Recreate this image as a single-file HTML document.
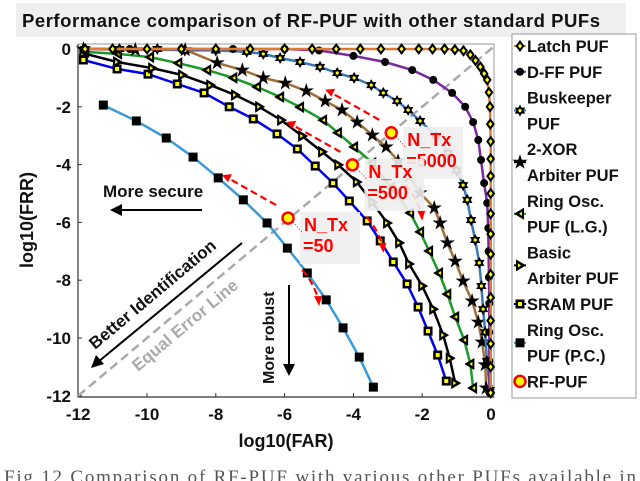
<!DOCTYPE html>
<html><head><meta charset="utf-8"><style>
body{margin:0;background:#fff;width:640px;height:481px;overflow:hidden;font-family:"Liberation Sans",Arial,sans-serif}
svg{display:block}
</style></head><body>
<svg id="chart" width="640" height="481" viewBox="0 0 640 481" font-family="Liberation Sans, Arial, sans-serif">
<rect x="16" y="3" width="610" height="34" fill="#efefef"/>
<text x="22" y="27" font-size="18.5" font-weight="bold" fill="#111" textLength="578">Performance comparison of RF-PUF with other standard PUFs</text>
<g id="plot"></g>
</svg>
<script>
const xTicks=[-12,-10,-8,-6,-4,-2,0];
const yTicks=[0,-2,-4,-6,-8,-10,-12];
const latchFar=[-11.8,-11,-10,-9,-8,-7,-6,-5.2,-4.5,-3.8,-3.2,-2.6,-2.1,-1.7,-1.35,-1.05,-0.8,-0.6,-0.45,-0.31,-0.2,-0.11,-0.06,-0.03,-0.02,-0.01,-0.01,-0.01,-0.01,-0.01,-0.01,-0.01,-0.01,-0.01,-0.01,-0.01,-0.01,-0.01];
const latchFrr=[0,0,0,0,0,0,0,0,0,0,0,0,0,0,0,-0.02,-0.06,-0.2,-0.4,-0.62,-0.85,-1.07,-1.5,-2,-2.6,-3.2,-3.8,-4.4,-5,-5.7,-6.4,-7.1,-7.8,-8.6,-9.4,-10.2,-11,-11.9];
const dffFar=[-11.8,-10.5,-9,-7.5,-6,-5,-4,-3.08,-2.29,-1.68,-1.13,-0.75,-0.52,-0.37,-0.29,-0.2,-0.11,-0.08,-0.07,-0.06,-0.05,-0.05,-0.05,-0.04];
const dffFrr=[0,0,0,0,0,-0.05,-0.24,-0.45,-0.73,-1.07,-1.52,-2,-2.53,-3.15,-3.84,-4.64,-5.33,-6.2,-7,-7.9,-8.8,-9.8,-10.8,-11.9];
const buskFar=[-11.8,-10.8,-9.7,-8.9,-8.0,-7.1,-6.62,-6.13,-5.55,-4.97,-4.47,-3.98,-3.48,-3.13,-2.73,-2.41,-2.06,-1.6,-1.25,-1.0,-0.81,-0.69,-0.58,-0.46,-0.34,-0.28,-0.23,-0.17,-0.12,-0.03];
const buskFrr=[0,0,0,-0.05,-0.05,-0.1,-0.17,-0.31,-0.45,-0.62,-0.83,-1.0,-1.25,-1.52,-1.8,-2.11,-2.49,-3.0,-3.6,-4.2,-4.71,-5.22,-5.92,-6.61,-7.4,-8.2,-9.0,-9.8,-10.8,-11.8];
const xorFar=[-11.85,-10.34,-8.89,-7.96,-7.23,-6.62,-5.98,-5.37,-4.82,-4.33,-3.89,-3.45,-3.05,-2.7,-2.38,-2.06,-1.65,-1.48,-1.27,-1.04,-0.81,-0.55,-0.37,-0.26,-0.17,-0.14];
const xorFrr=[0,-0.03,-0.03,-0.48,-0.73,-1.0,-1.18,-1.45,-1.8,-2.11,-2.53,-2.98,-3.39,-3.88,-4.4,-4.98,-5.5,-6.02,-6.71,-7.34,-8.03,-8.72,-9.45,-10.14,-10.93,-11.73];
const roLgFar=[-11.8,-10.84,-9.91,-9.09,-8.25,-7.49,-6.8,-6.13,-5.55,-4.88,-4.45,-3.98,-3.45,-2.9,-2.35,-2.06,-1.8,-1.51,-1.27,-1.04,-0.78,-0.6,-0.52];
const roLgFrr=[-0.1,-0.17,-0.28,-0.49,-0.73,-1.0,-1.31,-1.66,-2.01,-2.46,-2.9,-3.39,-3.94,-4.8,-5.67,-6.33,-6.99,-7.75,-8.48,-9.27,-10.07,-10.9,-11.73];
const basicFar=[-11.85,-10.87,-9.85,-8.98,-8.16,-7.44,-6.74,-6.1,-5.49,-4.91,-4.44,-3.9,-3.45,-3.02,-2.67,-2.38,-2.0,-1.68,-1.39,-1.2,-1.04];
const basicFrr=[-0.15,-0.45,-0.66,-0.9,-1.25,-1.59,-2.0,-2.46,-3.01,-3.56,-4.01,-4.6,-5.3,-6.02,-6.71,-7.44,-8.2,-9.0,-9.9,-10.7,-11.56];
const sramFar=[-11.85,-10.87,-9.97,-9.12,-8.34,-7.61,-6.91,-6.22,-5.63,-5.11,-4.59,-4.12,-3.6,-3.22,-2.84,-2.44,-2.12,-1.83,-1.55,-1.3];
const sramFrr=[-0.38,-0.69,-0.87,-1.21,-1.52,-2.0,-2.42,-2.94,-3.46,-4.05,-4.64,-5.26,-5.95,-6.64,-7.37,-8.13,-8.93,-9.76,-10.59,-11.49];
const roPcFar=[-11.27,-10.31,-9.44,-8.66,-7.93,-7.2,-6.51,-5.92,-5.34,-4.79,-4.3,-3.83,-3.42];
const roPcFrr=[-1.94,-2.49,-3.08,-3.74,-4.46,-5.22,-6.02,-6.89,-7.75,-8.68,-9.65,-10.66,-11.7];
const rfFar=[-2.9,-4.03,-5.9];
const rfFrr=[-2.9,-4.01,-5.85];
const rfLabels=["=5000","=500","=50"];

const NS="http://www.w3.org/2000/svg";
const g=document.getElementById('plot');
const X0=78,X1=494,Y0=44,Y1=397;
function sx(v){return 491+v*34.4;}
function sy(v){return 49-v*28.9;}
function el(tag,attrs,parent){const e=document.createElementNS(NS,tag);for(const k in attrs)e.setAttribute(k,attrs[k]);(parent||g).appendChild(e);return e;}
function txt(x,y,s,attrs,parent){const t=el('text',Object.assign({x:x,y:y},attrs),parent);t.textContent=s;return t;}

const frame=el('rect',{x:X0,y:Y0,width:X1-X0,height:Y1-Y0,fill:'none',stroke:'#999','stroke-width':1});


el('line',{x1:X0,y1:Y0,x2:X0,y2:Y1,stroke:'#333','stroke-width':1.2});
el('line',{x1:X0,y1:Y1,x2:X1,y2:Y1,stroke:'#333','stroke-width':1.2});

xTicks.forEach(v=>{
  el('line',{x1:sx(v),y1:Y1,x2:sx(v),y2:Y1-4,stroke:'#333'});
  const t=txt(sx(v),420,String(v),{'font-size':17,'font-weight':'bold','text-anchor':'middle',fill:'#111'});
  
  
});
yTicks.forEach(v=>{
  el('line',{x1:X0,y1:sy(v),x2:X0+4,y2:sy(v),stroke:'#333'});
  const t=txt(71,sy(v)+6,String(v),{'font-size':17,'font-weight':'bold','text-anchor':'end',fill:'#111'});
  
  
});
const xl=txt(286,447,'log10(FAR)',{'font-size':18,'font-weight':'bold','text-anchor':'middle',fill:'#111'});


const yl=txt(0,0,'log10(FRR)',{'font-size':18,'font-weight':'bold','text-anchor':'middle',fill:'#111',transform:'translate(33,220) rotate(-90)'});



const eel=el('line',{x1:sx(-12),y1:sy(-12),x2:sx(0.1),y2:sy(0.1),stroke:'#aaa','stroke-width':2.5,'stroke-dasharray':'9,5'});



function marker(type,x,y,parent){
  if(type==='diamond'){el('polygon',{points:`${x},${y-6} ${x+4.5},${y} ${x},${y+6} ${x-4.5},${y}`,fill:'#000'},parent);el('polygon',{points:`${x},${y-2.5} ${x+2},${y} ${x},${y+2.5} ${x-2},${y}`,fill:'#ff0'},parent);}
  else if(type==='circle')el('circle',{cx:x,cy:y,r:4,fill:'#000'},parent);
  else if(type==='star6'){el('polygon',{points:`${x},${y-6} ${x+5.2},${y+3} ${x-5.2},${y+3}`,fill:'#000'},parent);el('polygon',{points:`${x},${y+6} ${x+5.2},${y-3} ${x-5.2},${y-3}`,fill:'#000'},parent);el('circle',{cx:x,cy:y,r:1.6,fill:'#ff0'},parent);}
  else if(type==='star5'){let p=[];for(let i=0;i<10;i++){const r=i%2?3:8,a=-Math.PI/2+i*Math.PI/5;p.push((x+r*Math.cos(a)).toFixed(1)+','+(y+r*Math.sin(a)).toFixed(1));}el('polygon',{points:p.join(' '),fill:'#000'},parent);}
  else if(type==='tleft'){el('polygon',{points:`${x-6},${y} ${x+4},${y-6} ${x+4},${y+6}`,fill:'#000'},parent);el('polygon',{points:`${x-1},${y} ${x+2},${y-2} ${x+2},${y+2}`,fill:'#ff0'},parent);}
  else if(type==='tright'){el('polygon',{points:`${x+6},${y} ${x-4},${y-6} ${x-4},${y+6}`,fill:'#000'},parent);el('polygon',{points:`${x+1},${y} ${x-2},${y-2} ${x-2},${y+2}`,fill:'#ff0'},parent);}
  else if(type==='sqy'){el('rect',{x:x-4.5,y:y-4.5,width:9,height:9,fill:'#000'},parent);el('rect',{x:x-2,y:y-2,width:4,height:4,fill:'#ff0'},parent);}
  else if(type==='sq'){el('rect',{x:x-4.5,y:y-4.5,width:9,height:9,fill:'#000'},parent);}
  else if(type==='rf'){el('circle',{cx:x,cy:y,r:5.5,fill:'#ff0',stroke:'#f00','stroke-width':2.5},parent);}
}
const series=[
 ['roPc',roPcFar,roPcFrr,'#3a9ad6','sq'],
 ['sram',sramFar,sramFrr,'#0000ee','sqy'],
 ['basic',basicFar,basicFrr,'#000','tright'],
 ['roLg',roLgFar,roLgFrr,'#1a9a2a','tleft'],
 ['xor',xorFar,xorFrr,'#a0703a','star5'],
 ['busk',buskFar,buskFrr,'#3a78b0','star6'],
 ['dff',dffFar,dffFrr,'#7a2a9a','circle'],
 ['latch',latchFar,latchFrr,'#e07a30','diamond']
];
series.forEach(s=>{
  const grp=el('g',{});
  
  
  const pts=s[1].map((v,i)=>sx(v).toFixed(1)+','+sy(s[2][i]).toFixed(1)).join(' ');
  el('polyline',{points:pts,fill:'none',stroke:s[3],'stroke-width':2.5},grp);
  s[1].forEach((v,i)=>marker(s[4],sx(v),sy(s[2][i]),grp));
});

rfFar.forEach((v,i)=>{
  const x=sx(v),y=sy(rfFrr[i]);
  const grp=el('g',{});
  
  
  el('rect',{x:x+12,y:y-6,width:60,height:52,fill:'#eee',opacity:0.9},grp);
  el('line',{x1:x+5,y1:y+4,x2:x+14,y2:y+14,stroke:'#f00','stroke-dasharray':'1,2'},grp);
  txt(x+16,y+13,'N_Tx',{'font-size':18,'font-weight':'bold',fill:'#f00'},grp);
  txt(x+15,y+34,rfLabels[i],{'font-size':18,'font-weight':'bold',fill:'#f00'},grp);
  el('line',{x1:x-12,y1:y-13,x2:x-60,y2:y-40,stroke:'#f00','stroke-width':2.2,'stroke-dasharray':'7,4'},grp);
  el('polygon',{points:`${x-66},${y-43} ${x-56},${y-44} ${x-60},${y-36}`,fill:'#f00'},grp);
  el('path',{d:`M${x+14},${y+52} Q${x+24},${y+62} ${x+30},${y+80}`,fill:'none',stroke:'#f00','stroke-width':2.2,'stroke-dasharray':'7,4'},grp);
  el('polygon',{points:`${x+31},${y+88} ${x+26},${y+78} ${x+34},${y+78}`,fill:'#f00'},grp);
  marker('rf',x,y,grp);
});

const a1=el('g',{});
txt(103,197,'More secure',{'font-size':17,'font-weight':'bold',fill:'#111'},a1);
el('line',{x1:202,y1:210,x2:118,y2:210,stroke:'#000','stroke-width':2},a1);
el('polygon',{points:'110,210 122,204 122,216',fill:'#000'},a1);
const a2=el('g',{});
txt(0,0,'Better Identification',{'font-size':17,'font-weight':'bold',fill:'#111',transform:'translate(95,350) rotate(-40)'},a2);
el('line',{x1:242,y1:243,x2:98,y2:362,stroke:'#000','stroke-width':2},a2);
el('polygon',{points:'91,368 96,355 104,364',fill:'#000'},a2);
const a3=el('g',{});
txt(0,0,'Equal Error Line',{'font-size':17,'font-weight':'bold',fill:'#aaa',transform:'translate(138,372) rotate(-40)'},a3);
const a4=el('g',{});
txt(0,0,'More robust',{'font-size':16,'font-weight':'bold',fill:'#111',transform:'translate(274,384) rotate(-90)'},a4);
el('line',{x1:289,y1:285,x2:289,y2:365,stroke:'#000','stroke-width':2},a4);
el('polygon',{points:'289,376 283,364 295,364',fill:'#000'},a4);

const lg=el('g',{});
el('rect',{x:512,y:34,width:124,height:364,fill:'#fff',stroke:'#999'},lg);
const legItems=[
 [['Latch PUF'],'diamond','#e07a30',0],
 [['D-FF PUF'],'circle','#7a2a9a',1],
 [['Buskeeper','PUF'],'star6','#3a78b0',2],
 [['2-XOR','Arbiter PUF'],'star5','#000',4],
 [['Ring Osc.','PUF (L.G.)'],'tleft','#1a9a2a',6],
 [['Basic','Arbiter PUF'],'tright','#000',8],
 [['SRAM PUF'],'sqy','#0000ee',10],
 [['Ring Osc.','PUF (P.C.)'],'sq','#3a9ad6',11],
 [['RF-PUF'],'rf','#f00',13]
];
legItems.forEach(it=>{
  const eg=el('g',{},lg);
  
  
  const cy=46+it[3]*25.8;
  const my=it[0].length>1?cy+13:cy;
  if(it[1]!=='rf')el('line',{x1:514,y1:my,x2:526,y2:my,stroke:it[2],'stroke-width':2},eg);
  marker(it[1],520,my,eg);
  it[0].forEach((s,k)=>txt(527,cy+6+k*25.8,s,{'font-size':16.5,'font-weight':'bold',fill:'#111'},eg));
});

const cap=txt(4,483,'Fig 12 Comparison of RF-PUF with various other PUFs available in',{'font-size':19,fill:'#555',textLength:632,style:'font-family:"Liberation Serif",serif'});


</script>
</body></html>
